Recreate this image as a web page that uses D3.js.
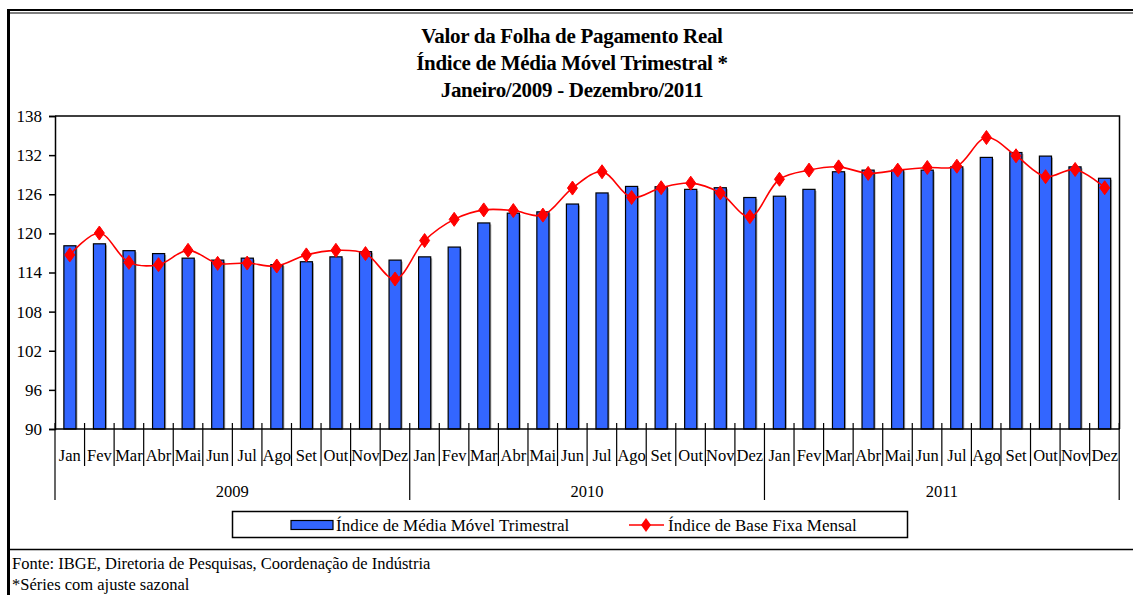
<!DOCTYPE html>
<html>
<head>
<meta charset="utf-8">
<script src="https://cdn.jsdelivr.net/npm/d3@7"></script>
<style>
  body { margin: 0; background: #fff; }
  svg text { font-family: "Liberation Serif", "DejaVu Serif", serif; fill: #000; }
</style>
</head>
<body>
<svg id="chart" width="1133" height="595"></svg>
<script>
// Data
var years = ["2009", "2010", "2011"];
var months = ["Jan", "Fev", "Mar", "Abr", "Mai", "Jun", "Jul", "Ago", "Set", "Out", "Nov", "Dez"];
var mediaMovel = [
    118.1, 118.4, 117.35, 116.9, 116.2, 115.9, 116.2, 115.2, 115.65, 116.4, 117.2, 115.9,
    116.4, 117.9, 121.6, 123.1, 123.3, 124.5, 126.2, 127.2, 127.15, 126.75, 127.0, 125.5,
    125.7, 126.75, 129.45, 129.7, 129.7, 129.7, 130.2, 131.65, 132.4, 131.85, 130.2, 128.45
];
var baseFixa = [
    116.7, 120.05, 115.55, 115.2, 117.4, 115.4, 115.45, 115.0, 116.7, 117.4, 116.9, 113.0,
    118.9, 122.15, 123.6, 123.5, 122.8, 126.95, 129.45, 125.5, 127.0, 127.7, 126.2, 122.55,
    128.3, 129.7, 130.2, 129.2, 129.7, 130.1, 130.3, 134.7, 131.9, 128.7, 129.8, 127.0
];
var yTicks = [90, 96, 102, 108, 114, 120, 126, 132, 138];
var titleLines = ["Valor da Folha de Pagamento Real", "Índice de Média Móvel Trimestral *", "Janeiro/2009 - Dezembro/2011"];
var legendLabels = ["Índice de Média Móvel Trimestral", "Índice de Base Fixa Mensal"];
var notes = ["Fonte: IBGE, Diretoria de Pesquisas, Coordenação de Indústria", "*Séries com ajuste sazonal"];

var svg = d3.select("#chart");

// build the category keys
var data = [];
years.forEach(function(y, yi) {
    months.forEach(function(m, mi) {
        var i = yi * 12 + mi;
        data.push({ key: y + "-" + m, year: y, month: m, bar: mediaMovel[i], line: baseFixa[i] });
    });
});

var margin = { left: 55, right: 1119.5, top: 116, bottom: 429 };

var xScale = d3.scaleBand()
    .domain(data.map(function(d) { return d.key; }))
    .range([margin.left, margin.right])
    .paddingInner(0.59)
    .paddingOuter(0.3);
var step = xScale.step();
var xBand = d3.scaleBand()
    .domain(data.map(function(d) { return d.key; }))
    .range([margin.left, margin.right]);

var yScale = d3.scaleLinear().domain([90, 138]).range([margin.bottom, margin.top]);

// outer frame: double line on top, thick line left, line above notes
svg.append("line").attr("x1", 8).attr("x2", 1133).attr("y1", 10).attr("y2", 10).attr("stroke", "#000").attr("stroke-width", 2);
svg.append("line").attr("x1", 10).attr("x2", 1133).attr("y1", 13).attr("y2", 13).attr("stroke", "#000").attr("stroke-width", 1.2);
svg.append("line").attr("x1", 8.5).attr("x2", 8.5).attr("y1", 9).attr("y2", 595).attr("stroke", "#000").attr("stroke-width", 3);
svg.append("line").attr("x1", 8).attr("x2", 1133).attr("y1", 549.5).attr("y2", 549.5).attr("stroke", "#000").attr("stroke-width", 1.5);

// title
svg.append("g").selectAll("text")
    .data(titleLines)
    .enter()
    .append("text")
    .attr("x", 572)
    .attr("y", function(d, i) { return 43 + i * 27; })
    .attr("text-anchor", "middle")
    .style("font-size", "21px")
    .style("font-weight", "bold")
    .style("letter-spacing", "-0.3px")
    .text(function(d) { return d; });

// plot frame (top and right)
svg.append("path")
    .attr("d", "M" + margin.left + "," + margin.top + "H" + margin.right + "V" + margin.bottom)
    .attr("fill", "none")
    .attr("stroke", "#000")
    .attr("stroke-width", 1.5);

// y axis
var yAxisG = svg.append("g")
    .attr("transform", "translate(" + margin.left + ",0)")
    .call(d3.axisLeft(yScale).tickValues(yTicks).tickSize(6).tickPadding(7));
yAxisG.select(".domain").attr("stroke-width", 1.5);
yAxisG.selectAll(".tick line").attr("stroke-width", 1.5);
yAxisG.selectAll(".tick text").style("font-size", "17px").attr("font-family", null);

// bars with a faint shadow
var barsG = svg.append("g");
barsG.selectAll(".shadow")
    .data(data)
    .enter()
    .append("rect")
    .attr("class", "shadow")
    .attr("x", function(d) { return xScale(d.key) + 1.5; })
    .attr("y", function(d) { return yScale(d.bar) + 1.5; })
    .attr("width", xScale.bandwidth())
    .attr("height", function(d) { return margin.bottom - yScale(d.bar) - 1.5; })
    .attr("fill", "#b0b0b0");
barsG.selectAll(".bar")
    .data(data)
    .enter()
    .append("rect")
    .attr("class", "bar")
    .attr("x", function(d) { return xScale(d.key); })
    .attr("y", function(d) { return yScale(d.bar); })
    .attr("width", xScale.bandwidth())
    .attr("height", function(d) { return margin.bottom - yScale(d.bar); })
    .attr("fill", "#3366FF")
    .attr("stroke", "#000")
    .attr("stroke-width", 1.2);

// x axis baseline
svg.append("line")
    .attr("x1", margin.left).attr("x2", margin.right)
    .attr("y1", margin.bottom).attr("y2", margin.bottom)
    .attr("stroke", "#000").attr("stroke-width", 1.5);

// month separators (cross the axis)
var sepG = svg.append("g");
sepG.selectAll("line")
    .data(d3.range(0, data.length + 1))
    .enter()
    .append("line")
    .attr("x1", function(i) { return margin.left + i * step; })
    .attr("x2", function(i) { return margin.left + i * step; })
    .attr("y1", margin.bottom - 6)
    .attr("y2", function(i) { return i % 12 === 0 ? 500 : 466; })
    .attr("stroke", "#000")
    .attr("stroke-width", 1.2);

// month labels
svg.append("g").selectAll("text")
    .data(data)
    .enter()
    .append("text")
    .attr("x", function(d) { return xBand(d.key) + step / 2; })
    .attr("y", 461)
    .attr("text-anchor", "middle")
    .style("font-size", "16.5px")
    .text(function(d) { return d.month; });

// year labels
svg.append("g").selectAll("text")
    .data(years)
    .enter()
    .append("text")
    .attr("x", function(d, i) { return margin.left + (i * 12 + 6) * step; })
    .attr("y", 497)
    .attr("text-anchor", "middle")
    .style("font-size", "16.5px")
    .text(function(d) { return d; });

// line series
var line = d3.line()
    .x(function(d) { return xBand(d.key) + step / 2; })
    .y(function(d) { return yScale(d.line); })
    .curve(d3.curveCatmullRom.alpha(0.5));

svg.append("path")
    .datum(data)
    .attr("d", line)
    .attr("fill", "none")
    .attr("stroke", "#FF0000")
    .attr("stroke-width", 1.6);

var diamond = "M0,-7L5,0L0,7L-5,0Z";
svg.append("g").selectAll("path")
    .data(data)
    .enter()
    .append("path")
    .attr("d", diamond)
    .attr("transform", function(d) {
        return "translate(" + [xBand(d.key) + step / 2, yScale(d.line)] + ")";
    })
    .attr("fill", "#FF0000")
    .attr("stroke", "#FF0000")
    .attr("stroke-width", 1);

// legend
var legendG = svg.append("g");
legendG.append("rect")
    .attr("x", 232.5).attr("y", 511.5).attr("width", 675).attr("height", 26)
    .attr("fill", "#fff").attr("stroke", "#000").attr("stroke-width", 1.5);
legendG.append("rect")
    .attr("x", 291).attr("y", 520.5).attr("width", 42).attr("height", 9)
    .attr("fill", "#3366FF").attr("stroke", "#000").attr("stroke-width", 1.2);
legendG.append("text")
    .attr("x", 336).attr("y", 531)
    .style("font-size", "17px")
    .text(legendLabels[0]);
legendG.append("line")
    .attr("x1", 629).attr("x2", 664).attr("y1", 525).attr("y2", 525)
    .attr("stroke", "#FF0000").attr("stroke-width", 1.6);
legendG.append("path")
    .attr("d", diamond)
    .attr("transform", "translate(646,525)")
    .attr("fill", "#FF0000");
legendG.append("text")
    .attr("x", 668).attr("y", 531)
    .style("font-size", "17px")
    .text(legendLabels[1]);

// notes
svg.append("g").selectAll("text")
    .data(notes)
    .enter()
    .append("text")
    .attr("x", 12)
    .attr("y", function(d, i) { return 569 + i * 21; })
    .style("font-size", "16.5px")
    .text(function(d) { return d; });
</script>
</body>
</html>
